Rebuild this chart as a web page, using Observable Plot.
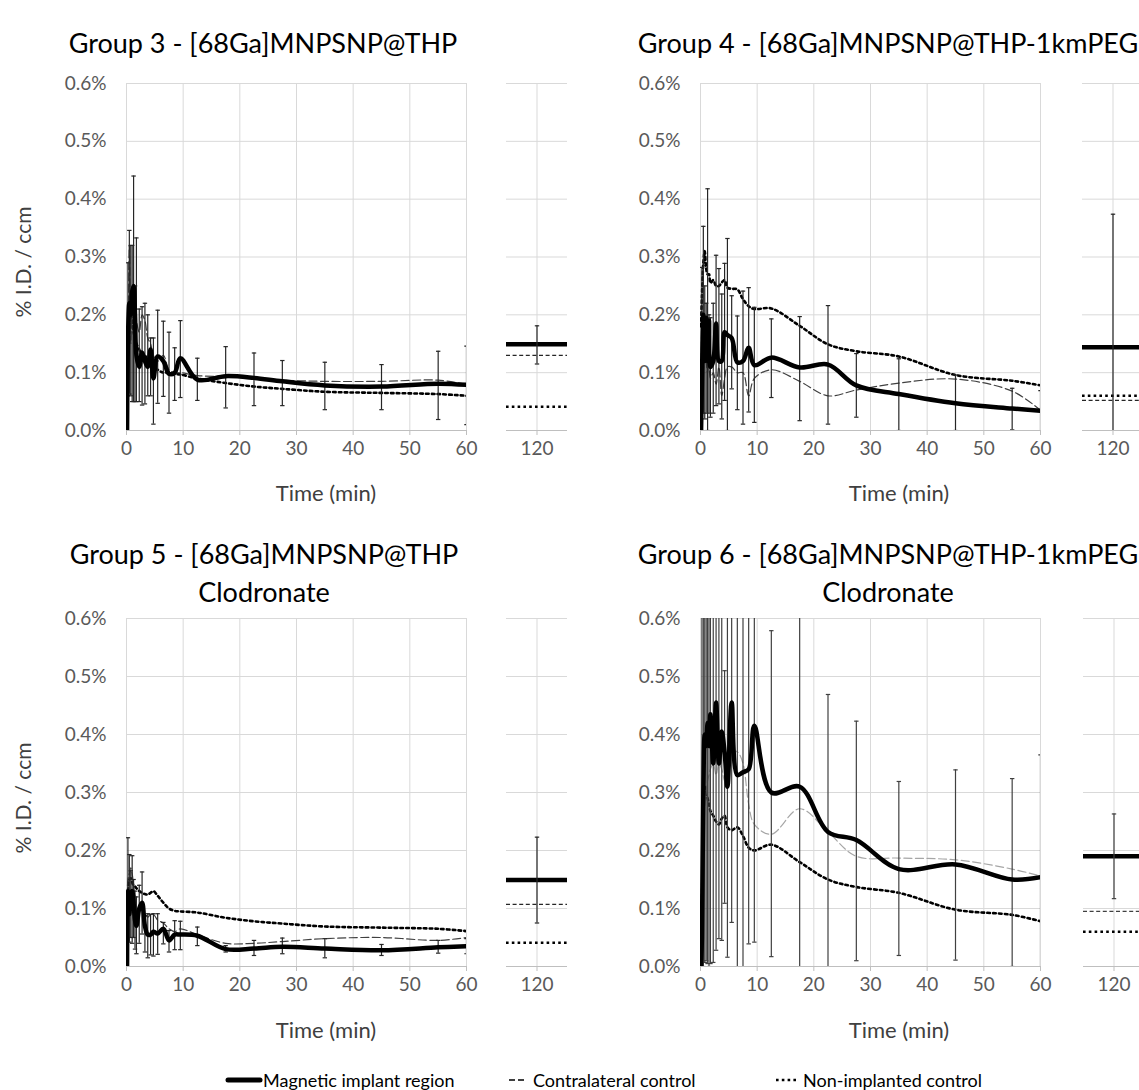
<!DOCTYPE html>
<html><head><meta charset="utf-8">
<script src="https://cdn.jsdelivr.net/npm/d3@7"></script>
<script src="https://cdn.jsdelivr.net/npm/@observablehq/plot@0.6"></script>
<style>
html,body{margin:0;padding:0;background:#fff;}
#root{position:relative;width:1139px;height:1090px;overflow:hidden;font-family:Lato,"Open Sans",sans-serif;}
.txt{position:absolute;white-space:nowrap;line-height:1;}
.title{font-size:27px;color:#000;transform:translate(-50%,-50%);}
.xtitle{font-size:22px;color:#404040;transform:translate(-50%,-50%);}
.ytitle{font-size:21px;color:#404040;transform:translate(-50%,-50%) rotate(-90deg);}
.leg{font-size:18px;color:#000;transform:translateY(-50%);}
</style></head><body><div id="root"></div>
<script>
// ---------- data ----------
const times = [0.1, 0.25, 0.5, 0.75, 1, 1.25, 1.5, 1.75, 2.25, 2.75, 3.25, 3.75, 4.25, 4.75, 5.5, 6.5, 7.5, 8.5, 9.5, 12.5, 17.5, 22.5, 27.5, 35, 45, 55, 60];
const xTicks = [0, 10, 20, 30, 40, 50, 60];
const yTicks = [0, 0.1, 0.2, 0.3, 0.4, 0.5, 0.6];
const sideTick = [120];
const seriesNames = ["Magnetic implant region", "Contralateral control", "Non-implanted control"];
const titles = [
  ["Group 3 - [68Ga]MNPSNP@THP"],
  ["Group 4 - [68Ga]MNPSNP@THP-1kmPEG"],
  ["Group 5 - [68Ga]MNPSNP@THP", "Clodronate"],
  ["Group 6 - [68Ga]MNPSNP@THP-1kmPEG", "Clodronate"]
];

// Group 3
const g3Mag    = [0, 0.15, 0.22, 0.2, 0.24, 0.25, 0.2, 0.13, 0.11, 0.135, 0.12, 0.11, 0.14, 0.09, 0.128, 0.12, 0.098, 0.1, 0.125, 0.088, 0.094, 0.091, 0.085, 0.078, 0.076, 0.081, 0.079];
const g3Contra = [0.02, 0.1, 0.32, 0.15, 0.22, 0.2, 0.21, 0.19, 0.17, 0.2, 0.19, 0.16, 0.15, 0.13, 0.12, 0.13, 0.105, 0.1, 0.1, 0.095, 0.093, 0.09, 0.087, 0.085, 0.085, 0.087, 0.08];
const g3Non    = [0.02, 0.1, 0.18, 0.2, 0.19, 0.17, 0.16, 0.15, 0.14, 0.13, 0.13, 0.12, 0.12, 0.11, 0.105, 0.1, 0.1, 0.098, 0.097, 0.09, 0.082, 0.076, 0.072, 0.067, 0.065, 0.063, 0.06];
const g3ErrLo  = [null, 0.06, 0.063, 0.06, 0.05, 0.05, 0.05, 0.05, 0.05, 0.044, 0.046, 0.06, 0.06, 0.011, 0.047, 0.059, 0.03, 0.052, 0.057, 0.052, 0.039, 0.043, 0.043, 0.036, 0.036, 0.019, 0.010];
const g3ErrHi  = [null, 0.29, 0.346, 0.32, 0.32, 0.44, 0.25, 0.333, 0.21, 0.214, 0.22, 0.2, 0.16, 0.16, 0.208, 0.189, 0.17, 0.143, 0.19, 0.125, 0.145, 0.134, 0.121, 0.118, 0.114, 0.137, 0.146];
const g3At120  = [0.149, 0.13, 0.041];
const g3Err120 = [0.115, 0.181];

// Group 4
const g4Mag    = [0, 0.085, 0.2, 0.12, 0.195, 0.12, 0.19, 0.11, 0.12, 0.185, 0.12, 0.12, 0.17, 0.165, 0.16, 0.118, 0.12, 0.143, 0.113, 0.126, 0.109, 0.114, 0.078, 0.063, 0.047, 0.038, 0.034];
const g4Contra = [0.02, 0.2, 0.1, 0.15, 0.12, 0.1, 0.13, 0.09, 0.1, 0.08, 0.11, 0.06, 0.09, 0.11, 0.11, 0.1, 0.1, 0.06, 0.09, 0.105, 0.085, 0.06, 0.07, 0.082, 0.089, 0.068, 0.035];
const g4Non    = [0.18, 0.23, 0.29, 0.31, 0.28, 0.27, 0.27, 0.255, 0.26, 0.25, 0.25, 0.256, 0.26, 0.247, 0.245, 0.244, 0.227, 0.215, 0.21, 0.211, 0.181, 0.149, 0.137, 0.128, 0.096, 0.086, 0.078];
const g4ErrLo  = [null, 0.0, 0.03, 0.02, 0.03, 0.0, 0.03, 0.023, 0.03, 0.043, 0.046, 0.02, 0.052, 0.0, 0.072, 0.036, 0.011, 0.032, 0.014, 0.057, 0.017, 0.011, 0.023, 0.0, 0.0, 0.001, 0.0];
const g4ErrHi  = [null, 0.282, 0.353, 0.25, 0.22, 0.418, 0.2, 0.195, 0.22, 0.303, 0.28, 0.236, 0.289, 0.332, 0.233, 0.198, 0.241, 0.247, 0.213, 0.193, 0.197, 0.216, 0.133, 0.124, 0.096, 0.073, 0.069];
const g4At120  = [0.144, 0.052, 0.06];
const g4Err120 = [-0.086, 0.374];

// Group 5
const g5Mag    = [0, 0.13, 0.09, 0.125, 0.13, 0.11, 0.08, 0.07, 0.1, 0.11, 0.07, 0.055, 0.055, 0.06, 0.057, 0.065, 0.045, 0.055, 0.055, 0.053, 0.03, 0.031, 0.034, 0.031, 0.028, 0.033, 0.035];
const g5Contra = [0.02, 0.15, 0.16, 0.17, 0.16, 0.14, 0.12, 0.1, 0.1, 0.095, 0.09, 0.085, 0.09, 0.09, 0.08, 0.075, 0.065, 0.06, 0.065, 0.055, 0.04, 0.04, 0.043, 0.048, 0.05, 0.045, 0.05];
const g5Non    = [0.05, 0.12, 0.15, 0.152, 0.145, 0.14, 0.138, 0.135, 0.13, 0.127, 0.125, 0.124, 0.127, 0.13, 0.122, 0.11, 0.1, 0.096, 0.095, 0.093, 0.084, 0.078, 0.074, 0.069, 0.067, 0.065, 0.061];
const g5ErrLo  = [null, 0.05, 0.042, 0.05, 0.04, 0.05, 0.03, 0.022, 0.04, 0.056, 0.025, 0.015, 0.02, 0.018, 0.021, 0.039, 0.025, 0.029, 0.029, 0.036, 0.025, 0.019, 0.022, 0.015, 0.019, 0.023, 0.022];
const g5ErrHi  = [null, 0.222, 0.193, 0.165, 0.191, 0.15, 0.13, 0.12, 0.14, 0.163, 0.088, 0.091, 0.09, 0.091, 0.091, 0.076, 0.062, 0.079, 0.078, 0.068, 0.036, 0.045, 0.049, 0.048, 0.038, 0.045, 0.048];
const g5At120  = [0.149, 0.107, 0.041];
const g5Err120 = [0.075, 0.223];

// Group 6
const g6Mag    = [0, 0.05, 0.3, 0.4, 0.38, 0.42, 0.38, 0.435, 0.35, 0.455, 0.35, 0.405, 0.37, 0.31, 0.455, 0.33, 0.335, 0.34, 0.415, 0.3, 0.31, 0.232, 0.218, 0.168, 0.176, 0.15, 0.154];
const g6Contra = [0.0, 0.05, 0.2, 0.28, 0.3, 0.32, 0.33, 0.34, 0.35, 0.33, 0.35, 0.34, 0.32, 0.35, 0.37, 0.37, 0.35, 0.28, 0.245, 0.228, 0.272, 0.232, 0.19, 0.187, 0.184, 0.168, 0.156];
const g6Non    = [0.0, 0.1, 0.25, 0.31, 0.3, 0.29, 0.28, 0.268, 0.26, 0.25, 0.245, 0.255, 0.26, 0.24, 0.235, 0.24, 0.225, 0.205, 0.2, 0.21, 0.18, 0.15, 0.137, 0.127, 0.098, 0.089, 0.078];
const g6ErrLo  = [null, 0.0, 0.0, 0.007, 0.01, 0.005, 0.0, 0.005, 0.007, 0.028, 0.048, 0.045, 0.109, 0.016, 0.076, -0.05, -0.05, 0.039, 0.042, 0.017, -0.01, -0.02, 0.01, 0.019, 0.011, 0.0, -0.01];
const g6ErrHi  = [null, 0.7, 0.8, 0.9, 0.85, 0.8, 0.75, 0.8, 0.75, 0.85, 0.7, 0.75, 0.51, 0.7, 0.8, 0.7, 0.75, 0.65, 0.7, 0.579, 0.62, 0.469, 0.423, 0.319, 0.339, 0.324, 0.365];
const g6At120  = [0.19, 0.095, 0.06];
const g6Err120 = [0.117, 0.263];

// ---------- layout / style ----------
const groups = [
  {mag: g3Mag, contra: g3Contra, non: g3Non, lo: g3ErrLo, hi: g3ErrHi, at120: g3At120, err120: g3Err120},
  {mag: g4Mag, contra: g4Contra, non: g4Non, lo: g4ErrLo, hi: g4ErrHi, at120: g4At120, err120: g4Err120},
  {mag: g5Mag, contra: g5Contra, non: g5Non, lo: g5ErrLo, hi: g5ErrHi, at120: g5At120, err120: g5Err120},
  {mag: g6Mag, contra: g6Contra, non: g6Non, lo: g6ErrLo, hi: g6ErrHi, at120: g6At120, err120: g6Err120}
];
const layout = [
  {x0: 126, yTop: 83, yBot: 430, sideL: 506, contraColor: "#404040", sideContra: "#262626", errColor: "#262626", titleX: [263], titleY: [42], xTitleX: 326, xTitleY: 493, yTitle: 262},
  {x0: 700, yTop: 83, yBot: 430, sideL: 1082, contraColor: "#404040", sideContra: "#262626", errColor: "#262626", titleX: [888], titleY: [42], xTitleX: 899, xTitleY: 493, yTitle: null},
  {x0: 126, yTop: 618, yBot: 966, sideL: 506, contraColor: "#404040", sideContra: "#262626", errColor: "#262626", titleX: [264, 264], titleY: [553, 591], xTitleX: 326, xTitleY: 1030, yTitle: 798},
  {x0: 700, yTop: 618, yBot: 966, sideL: 1083, contraColor: "#a6a6a6", sideContra: "#404040", errColor: "#404040", titleX: [888, 888], titleY: [553, 591], xTitleX: 899, xTitleY: 1030, yTitle: null}
];
const MAIN_W = 340, SIDE_W = 61;
const GRID = "#d9d9d9", AXIS = "#bfbfbf";
const FONT = "Lato, 'Open Sans', sans-serif";
const capSymbol = {draw(ctx, size) { const r = Math.sqrt(size / Math.PI); ctx.moveTo(-r, 0); ctx.lineTo(r, 0); }};

const root = document.getElementById("root");
function place(el, left, top) {
  el.style.position = "absolute"; el.style.left = left + "px"; el.style.top = top + "px"; el.style.overflow = "visible";
  root.appendChild(el);
}
function addText(cls, text, x, y) {
  const d = document.createElement("div");
  d.className = "txt " + cls; d.textContent = text;
  d.style.left = x + "px"; d.style.top = y + "px";
  root.appendChild(d);
}

groups.forEach((g, k) => {
  const L = layout[k];
  const H = L.yBot - L.yTop;
  const rows = times.map((t, i) => ({t, mag: g.mag[i], contra: g.contra[i], non: g.non[i], lo: g.lo[i], hi: g.hi[i]}));
  const errRows = rows.filter(d => d.lo != null);
  const ml = 90, mr = 20, mt = 12, mb = 40;
  const main = Plot.plot({
    width: ml + MAIN_W + mr, height: mt + H + mb,
    marginLeft: ml, marginRight: mr, marginTop: mt, marginBottom: mb,
    style: {fontFamily: FONT, fontSize: "19px", color: "#595959", background: "none", overflow: "visible"},
    x: {domain: [0, 60]},
    y: {domain: [0, 0.6]},
    marks: [
      Plot.gridX(xTicks, {stroke: GRID, strokeOpacity: 1}),
      Plot.gridY(yTicks, {stroke: GRID, strokeOpacity: 1}),
      Plot.axisY(yTicks, {tickSize: 0, tickPadding: 20, tickFormat: d => d.toFixed(1) + "%", label: null}),
      Plot.axisX(xTicks, {tickSize: 5, tickPadding: 6, label: null, stroke: AXIS, tickFormat: d => String(d)}),
      Plot.ruleY([0], {stroke: AXIS}),
      Plot.line(rows, {x: "t", y: "non", curve: "catmull-rom", stroke: "#000", strokeWidth: 2.6, strokeDasharray: "2.6,3.2", clip: true}),
      Plot.line(rows, {x: "t", y: "contra", curve: "catmull-rom", stroke: L.contraColor, strokeWidth: 1.2, strokeDasharray: "8,3.5", clip: true}),
      Plot.ruleX(errRows, {x: "t", y1: "lo", y2: "hi", stroke: L.errColor, strokeWidth: 1.2, clip: true}),
      Plot.dot(errRows, {x: "t", y: "lo", symbol: capSymbol, r: 2.2, fill: "none", stroke: L.errColor, strokeWidth: 1.2, clip: true}),
      Plot.dot(errRows, {x: "t", y: "hi", symbol: capSymbol, r: 2.2, fill: "none", stroke: L.errColor, strokeWidth: 1.2, clip: true}),
      Plot.line(rows, {x: "t", y: "mag", curve: "catmull-rom", stroke: "#000", strokeWidth: 4.5, strokeLinejoin: "round", clip: true})
    ]
  });
  place(main, L.x0 - ml, L.yTop - mt);

  // side panel at t = 120
  const sideRows = [{t: 120, lo: g.err120[0], hi: g.err120[1]}];
  const side = Plot.plot({
    width: SIDE_W, height: mt + H + mb,
    marginLeft: 0, marginRight: 0, marginTop: mt, marginBottom: mb,
    style: {fontFamily: FONT, fontSize: "19px", color: "#595959", background: "none", overflow: "visible"},
    x: {domain: [110, 130]},
    y: {domain: [0, 0.6], axis: null},
    marks: [
      Plot.gridX(sideTick, {stroke: GRID, strokeOpacity: 1}),
      Plot.gridY(yTicks, {stroke: GRID, strokeOpacity: 1}),
      Plot.axisX(sideTick, {tickSize: 5, tickPadding: 6, label: null, stroke: AXIS, tickFormat: d => String(d)}),
      Plot.ruleY([0], {stroke: AXIS}),
      Plot.ruleY([g.at120[2]], {stroke: "#000", strokeWidth: 2.6, strokeDasharray: "2.6,3.2"}),
      Plot.ruleY([g.at120[1]], {stroke: L.sideContra, strokeWidth: 1.2, strokeDasharray: "4,2.6"}),
      Plot.ruleY([g.at120[0]], {stroke: "#000", strokeWidth: 4.5}),
      Plot.ruleX(sideRows, {x: "t", y1: "lo", y2: "hi", stroke: L.errColor, strokeWidth: 1.2, clip: true}),
      Plot.dot(sideRows, {x: "t", y: "lo", symbol: capSymbol, r: 2.2, fill: "none", stroke: L.errColor, strokeWidth: 1.2, clip: true}),
      Plot.dot(sideRows, {x: "t", y: "hi", symbol: capSymbol, r: 2.2, fill: "none", stroke: L.errColor, strokeWidth: 1.2, clip: true})
    ]
  });
  place(side, L.sideL, L.yTop - mt);

  titles[k].forEach((t, j) => addText("title", t, L.titleX[j], L.titleY[j]));
  addText("xtitle", "Time (min)", L.xTitleX, L.xTitleY);
  if (L.yTitle != null) addText("ytitle", "% I.D. / ccm", 22, L.yTitle);
});

// ---------- legend ----------
const legY = 1080;
const legItems = [
  {x1: 228, x2: 260, w: 5, dash: null, tx: 263},
  {x1: 509, x2: 527, w: 1.3, dash: "6,3", tx: 533},
  {x1: 776, x2: 799, w: 2.6, dash: "2.6,3.2", tx: 803}
];
legItems.forEach((it, i) => {
  const ns = "http://www.w3.org/2000/svg";
  const s = document.createElementNS(ns, "svg");
  s.setAttribute("width", it.x2 - it.x1 + 4); s.setAttribute("height", 10);
  const ln = document.createElementNS(ns, "line");
  ln.setAttribute("x1", 2); ln.setAttribute("x2", it.x2 - it.x1 + 2); ln.setAttribute("y1", 5); ln.setAttribute("y2", 5);
  ln.setAttribute("stroke", "#000"); ln.setAttribute("stroke-width", it.w);
  if (i === 0) ln.setAttribute("stroke-linecap", "round");
  if (it.dash) ln.setAttribute("stroke-dasharray", it.dash);
  s.appendChild(ln);
  place(s, it.x1 - 2, legY - 5);
  addText("leg", seriesNames[i], it.tx, legY);
});
</script></body></html>
